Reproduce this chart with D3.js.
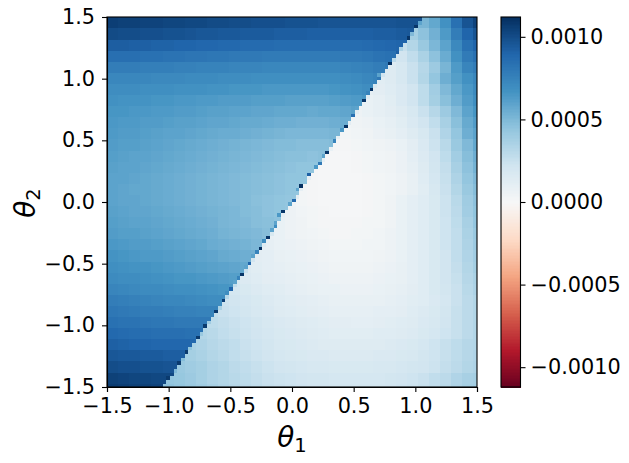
<!DOCTYPE html>
<html><head><meta charset="utf-8">
<script src="https://cdn.jsdelivr.net/npm/d3@7"></script>
<style>html,body{margin:0;background:#fff}svg{display:block}text{font-family:"DejaVu Sans";fill:#000}</style>
</head><body><svg id="c" width="629" height="463"></svg>
<script>
// values below are in units of 1e-5; rows run from theta2 = 1.5 down to -1.5
const paletteColors = ["#67001f","#b2182b","#d6604d","#f4a582","#fddbc7","#f7f7f7","#d1e5f0","#92c5de","#4393c3","#2166ac","#053061"];
const xTicks = [-1.5,-1,-0.5,0,0.5,1,1.5];
const yTicks = [-1.5,-1,-0.5,0,0.5,1,1.5];
const barTicks = [-0.001,-0.0005,0,0.0005,0.001];
const upperBlocks = [
[106,105,105,104,104,103,103,102,102,101,101,100,100,99,99,99,98,98,98,97,97,97,97,97,97,97,98,98],
[101,100,100,99,99,98,98,97,96,96,95,95,94,94,94,93,93,93,92,92,92,92,92,92,93,93,94,95],
[93,93,92,92,91,91,90,90,89,89,88,88,87,87,87,86,86,86,86,86,86,86,86,87,88,89,90],
[85,85,85,84,84,83,83,82,82,81,81,80,80,80,79,79,79,79,79,79,79,80,80,81,83,84],
[78,78,78,77,77,77,76,76,75,75,75,74,74,74,73,73,73,73,73,73,73,74,75,76,78,80],
[73,73,73,73,72,72,72,71,71,71,70,70,70,69,69,69,69,69,69,69,69,70,71,73,75],
[70,70,70,69,69,69,68,68,68,67,67,66,66,66,65,65,65,65,65,65,66,67,68,70],
[68,67,67,67,66,66,65,65,64,64,63,63,63,62,62,62,61,61,61,61,62,63,64,66],
[66,66,65,65,64,64,63,63,62,61,61,60,60,59,59,58,58,58,57,58,58,59,61],
[65,64,64,63,63,62,61,61,60,59,59,58,57,57,56,55,55,54,54,54,55,56],
[64,63,63,62,61,60,60,59,58,57,56,56,55,54,53,52,51,51,51,51,52],
[63,62,62,61,60,59,58,57,56,55,54,53,52,51,50,49,49,48,48,48,49],
[62,61,60,60,59,58,57,56,55,54,53,52,51,50,49,48,47,47,46,47],
[61,60,60,59,58,57,56,55,54,53,52,51,50,49,48,47,46,45,45],
[60,60,59,58,57,56,55,54,53,52,51,50,49,48,47,46,45,45,44],
[60,59,58,58,57,56,55,54,53,52,51,50,49,48,47,46,45,44],
[60,59,59,58,57,56,55,54,53,52,51,50,49,47,46,45,44],
[61,60,59,59,58,57,56,55,54,53,52,51,49,48,46,45,44],
[62,61,60,60,59,58,57,56,55,54,52,51,50,48,47,46],
[63,62,62,61,60,59,58,57,56,55,53,52,51,50,48],
[65,64,63,63,62,61,60,59,58,56,55,54,53,51],
[67,66,65,64,64,63,62,61,60,59,57,56,55,54],
[69,68,67,67,66,65,64,63,62,61,60,59,58],
[71,70,70,69,68,67,66,66,65,64,63,62],
[74,73,72,71,71,70,69,69,68,67,66,65],
[78,77,76,75,74,73,73,72,71,70,70],
[81,80,79,78,78,77,76,76,75,75],
[84,83,83,82,81,81,80,80,80,80],
[88,87,86,86,85,85,85,84,84],
[92,91,90,90,89,89,89,89],
[96,95,95,94,94,93,93],
[100,99,99,98,98,97,97],
[105,104,103,103,102,102],
[107,106,105,105,104,104]];
const lowerBlocks = [
[46,52,58,68,84,97,104],
[38,46,54,64,78,90,97],
[26,33,42,51,60,72,84,90],
[21,22,28,36,46,56,68,79,84],
[15,19,25,32,41,52,64,74,78],
[13,15,19,25,33,44,55,62,68,73],
[10,12,14,17,22,29,39,50,58,65,71],
[8,10,13,17,22,29,38,47,55,63,69],
[6,8,10,12,15,19,25,32,41,50,60,66],
[4,5,6,8,10,13,17,22,28,37,47,57,63],
[3,3,4,5,7,9,11,15,19,25,34,44,55,60],
[2,2,3,4,5,6,8,12,17,24,31,42,50,58],
[1,1,1,2,3,4,5,7,11,16,22,29,39,48,55],
[2,1,1,1,2,3,4,5,7,10,15,21,27,37,46,53],
[2,1,1,1,1,2,3,4,6,9,14,20,26,35,44,50],
[3,2,1,1,1,1,2,3,4,6,9,13,19,25,33,42,48],
[5,3,2,1,1,1,1,2,3,5,8,11,14,18,24,31,40,46],
[6,4,3,2,1,1,1,2,3,5,8,11,14,18,24,30,39,45],
[8,6,5,3,2,2,2,2,3,3,5,8,11,14,18,23,29,37,44],
[9,8,6,5,4,3,2,2,3,3,4,6,8,11,14,18,23,28,36,42],
[11,10,8,7,6,5,4,3,3,3,4,4,6,8,11,14,18,23,28,35,41],
[12,11,9,8,7,6,5,4,4,4,4,5,6,8,11,14,18,22,28,34,39],
[15,13,11,10,9,8,7,6,5,5,5,5,6,7,9,11,14,18,22,27,33,38],
[18,16,14,12,11,10,9,8,7,6,6,6,6,7,8,9,11,14,18,22,26,32,36],
[20,18,16,14,13,11,10,9,8,8,7,7,7,8,9,10,12,14,18,21,25,31,35],
[24,22,20,18,16,14,13,12,11,10,9,9,9,9,9,10,11,13,14,17,20,25,30,33],
[27,25,23,21,19,17,15,14,13,12,11,10,10,10,10,11,11,12,14,16,18,21,26,30,33],
[29,27,25,23,21,19,17,16,15,14,13,12,12,11,11,12,13,14,15,17,19,22,26,30,33],
[33,31,28,26,24,22,20,18,17,16,15,14,13,13,13,13,14,14,15,16,18,20,23,26,30,33],
[37,35,32,30,28,25,23,21,19,18,17,16,15,15,15,15,15,15,16,17,18,20,23,26,29,32,33],
[40,38,36,33,31,28,26,24,22,20,19,18,17,17,16,16,16,16,17,17,18,19,21,23,26,29,32,34],
[42,40,38,35,33,30,28,26,24,22,21,20,19,19,18,18,18,18,19,19,20,21,22,24,27,30,33,35],
[44,43,41,38,35,33,31,29,27,25,24,23,22,21,21,20,20,20,20,20,21,22,23,25,28,30,34,37,38],
[46,44,42,40,37,34,32,30,28,26,25,24,23,22,22,21,21,21,21,21,22,23,24,26,28,31,35,38,39]];
// first column of the lower-right region in each fine row, bottom row first
const boundaryCols = [15,16,17,18,18,19,20,20,21,22,22,23,24,25,25,26,27,27,28,29,30,30,31,32,32,33,34,34,35,36,37,37,38,39,39,40,41,42,42,43,44,44,45,46,46,47,47,48,49,50,51,51,52,52,53,54,54,55,56,57,58,58,59,60,60,61,62,62,63,64,65,65,66,67,67,68,69,70,70,71,72,72,73,74,74,75,76,77,77,78,79,79,80,81,82,82,83,84,84,85];
// cells just above the boundary that stand out: fine row and value
const edgeRows = [2,6,9,13,16,20,23,25,26,28,29,30,32,33,35,36,37,39,40,42,43,44,46,47,49,50,53,54,57,59,60,62,63,66,69,70,73,75,77,79,80,83,84,87,90,94,97];
const edgeValues = [108,108,108,108,108,108,106,70,90,60,75,110,60,90,60,75,112,70,110,60,70,60,65,110,60,88,60,112,92,65,80,60,110,75,65,112,85,60,110,75,112,80,60,112,92,110,110];
// cells just below the boundary that stand out
const lowerEdgeRows = [4,7,10,14,17,21,24,27,31,34,38,41,46,51,53,56,61,64,67,71,74,78,81,84,88,91,95,98];
const lowerEdgeValues = [50,48,45,42,40,36,32,28,25,22,15,18,10,12,10,10,10,8,10,12,12,15,18,22,30,35,50,60];

const N = 100, BLOCK = 3, COLS = 34, UNIT = 1e-5, barMax = 0.00112;
const svg = d3.select("#c");
const box = {l:107,r:477,t:17,b:387};
const x = d3.scaleLinear().domain([-1.5,1.5]).range([box.l,box.r]);
const y = d3.scaleLinear().domain([-1.5,1.5]).range([box.b,box.t]);
const color = d3.scaleLinear().domain(d3.range(11).map(i=>-barMax+i*barMax/5)).range(paletteColors).clamp(true);
const edgeByRow = new Map(edgeRows.map((r,i)=>[r,edgeValues[i]]));
const lowerEdgeByRow = new Map(lowerEdgeRows.map((r,i)=>[r,lowerEdgeValues[i]]));
const cellStep = 3/N;
const cells = [];
for (let r=0;r<N;r++) for (let c=0;c<N;c++) {
  const i = Math.floor((N-1-r)/BLOCK), j = Math.floor(c/BLOCK);
  let v;
  if (c < boundaryCols[r]) {
    const row = upperBlocks[i];
    v = row[Math.min(j,row.length-1)];
    if (c === boundaryCols[r]-1 && edgeByRow.has(r)) v = edgeByRow.get(r);
  } else {
    const row = lowerBlocks[i], start = COLS-row.length;
    v = row[Math.max(j-start,0)];
    if (c === boundaryCols[r] && lowerEdgeByRow.has(r)) v = lowerEdgeByRow.get(r);
  }
  cells.push({r,c,v:v*UNIT});
}
svg.append("g").selectAll("rect").data(cells).join("rect")
  .attr("x",d=>x(-1.5+d.c*cellStep)).attr("y",d=>y(-1.5+(d.r+1)*cellStep))
  .attr("width",x(cellStep)-x(0)+0.3).attr("height",y(0)-y(cellStep)+0.3)
  .attr("fill",d=>color(d.v)).attr("shape-rendering","crispEdges");

function styleAxis(g){
  g.selectAll("path").attr("stroke","#000").attr("stroke-width",1.1);
  g.selectAll("line").attr("stroke","#000").attr("stroke-width",1.1);
  g.selectAll("text").style("font-family","DejaVu Sans").attr("font-size",20.8).attr("fill","#000");
}
const fmt1 = d=>d3.format(".1f")(d).replace("-","\u2212");
const gx = svg.append("g").attr("transform",`translate(0,${box.b})`)
  .call(d3.axisBottom(x).tickValues(xTicks).tickFormat(fmt1).tickSize(5).tickPadding(6));
gx.call(styleAxis);
const gy = svg.append("g").attr("transform",`translate(${box.l},0)`)
  .call(d3.axisLeft(y).tickValues(yTicks).tickFormat(fmt1).tickSize(5).tickPadding(7));
gy.call(styleAxis);
svg.append("rect").attr("x",box.l).attr("y",box.t).attr("width",box.r-box.l).attr("height",box.b-box.t)
  .attr("fill","none").attr("stroke","#000").attr("stroke-width",1.1);

// colour bar
const bar = {l:501,r:520.5};
const by = d3.scaleLinear().domain([-barMax,barMax]).range([box.b,box.t]);
const levels = d3.range(256).map(i=>-barMax+(i+0.5)*2*barMax/256);
svg.append("g").selectAll("rect").data(levels).join("rect")
  .attr("x",bar.l).attr("width",bar.r-bar.l)
  .attr("y",d=>by(d+barMax/256)).attr("height",(box.b-box.t)/256+0.8)
  .attr("fill",d=>color(d)).attr("shape-rendering","crispEdges");
const gb = svg.append("g").attr("transform",`translate(${bar.r},0)`)
  .call(d3.axisRight(by).tickValues(barTicks).tickFormat(d=>d3.format(".4f")(d).replace("-","\u2212")).tickSize(5).tickPadding(5));
gb.call(styleAxis);
gb.select("path").remove();
svg.append("rect").attr("x",bar.l).attr("y",box.t).attr("width",bar.r-bar.l).attr("height",box.b-box.t)
  .attr("fill","none").attr("stroke","#000").attr("stroke-width",1.1);

// axis labels
const xl = svg.append("text").attr("x",292).attr("y",447).attr("text-anchor","middle").attr("font-size",27.8);
xl.append("tspan").attr("font-style","italic").text("\u03b8");
xl.append("tspan").attr("font-size",19.5).attr("dy",5).text("1");
const yl = svg.append("text").attr("transform","translate(35,203) rotate(-90)").attr("text-anchor","middle").attr("font-size",27.8);
yl.append("tspan").attr("font-style","italic").text("\u03b8");
yl.append("tspan").attr("font-size",19.5).attr("dy",5).text("2");
</script></body></html>
